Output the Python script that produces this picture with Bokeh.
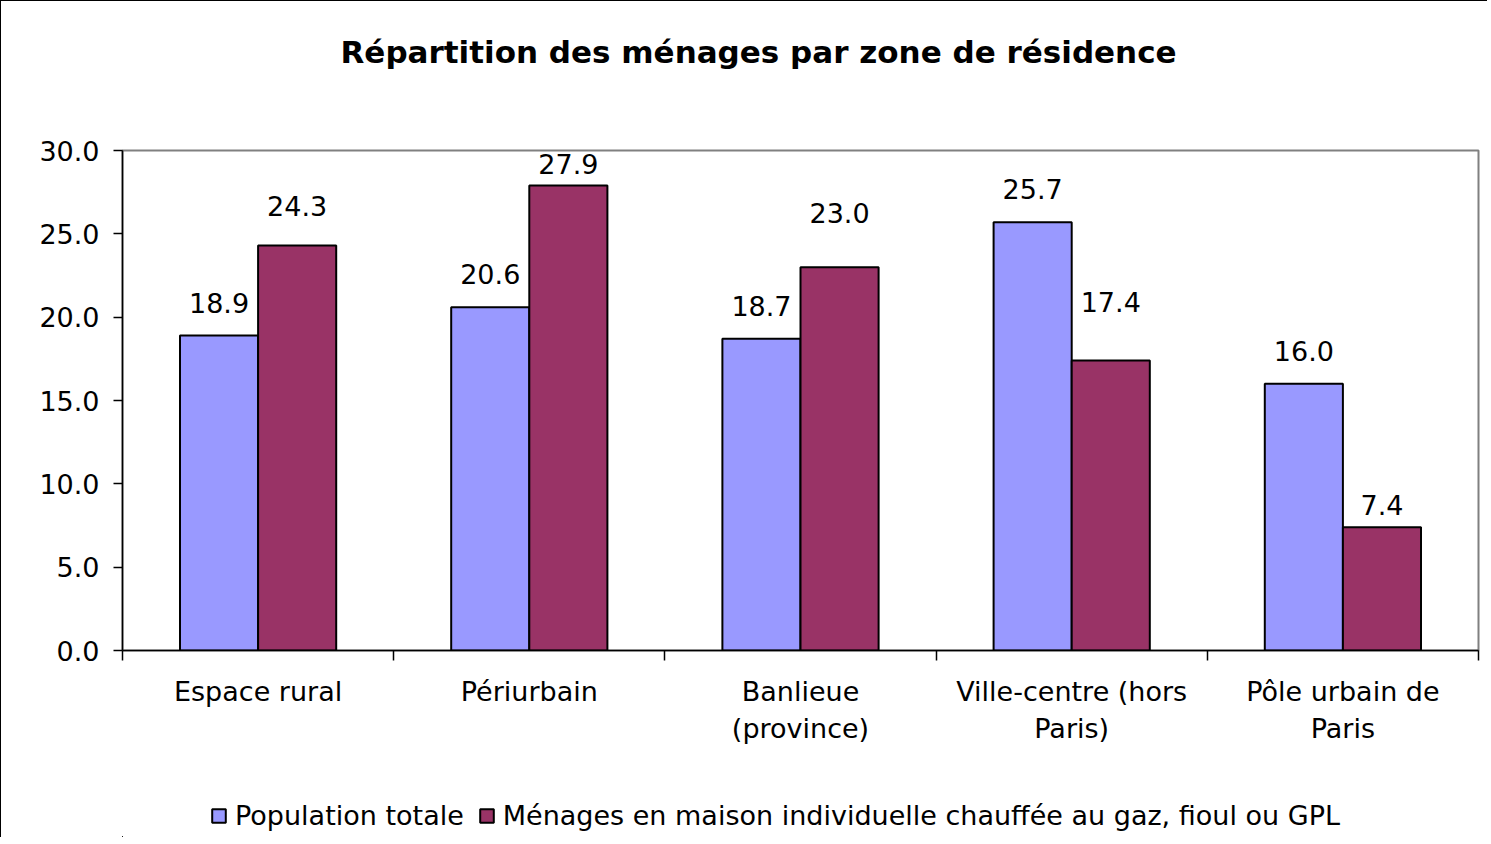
from bokeh.plotting import figure
from bokeh.layouts import column
from bokeh.models import (ColumnDataSource, FixedTicker, LinearAxis, Legend, LegendItem,
                          Range1d, NumeralTickFormatter, Title)
from bokeh.core.properties import value
from bokeh.embed import file_html
from bokeh.resources import INLINE

categories = ["Espace rural", "Périurbain", "Banlieue\n(province)", "Ville-centre (hors\nParis)", "Pôle urbain de\nParis"]
population_totale = [18.9, 20.6, 18.7, 25.7, 16.0]
menages_maison = [24.3, 27.9, 23.0, 17.4, 7.4]
series_names = ["Population totale", "Ménages en maison individuelle chauffée au gaz, fioul ou GPL"]
y_ticks = [0, 5, 10, 15, 20, 25, 30]

# label placement (pixels above the bar top), as in the original chart
blue_label_offsets = [-33, -33, -33, -33, -33]
red_label_offsets = [-40, -22, -54, -59, -22]

FONT = "DejaVu Sans"
BLUE = "#9999FF"
RED = "#993366"
BAR_W = 0.288

idx = list(range(len(categories)))
centers = [i + 0.5 for i in idx]
src1 = ColumnDataSource(dict(x=[c - BAR_W / 2 for c in centers], top=population_totale,
                             lab=[f"{v:.1f}" for v in population_totale], off=blue_label_offsets))
src2 = ColumnDataSource(dict(x=[c + BAR_W / 2 for c in centers], top=menages_maison,
                             lab=[f"{v:.1f}" for v in menages_maison], off=red_label_offsets))

p = figure(frame_width=1355, frame_height=499, output_backend="svg", toolbar_location=None,
           x_range=Range1d(0, len(categories)), y_range=Range1d(0, 30),
           x_axis_type=None, y_axis_type=None,
           min_border_left=121, min_border_right=10, min_border_top=149, min_border_bottom=120)
p.styles = {"border-left": "1px solid black", "border-top": "1px solid black"}
p.title = None

# spacer (closest to the frame) then the real title
p.add_layout(Title(text=" ", text_font=FONT, text_font_size="10px", standoff=38), "above")
p.add_layout(Title(text="Répartition des ménages par zone de résidence", align="left",
                   offset=218,
                   text_font=FONT, text_font_size="31px", text_font_style="bold",
                   text_color="black", standoff=60), "above")

r1 = p.vbar(x="x", top="top", width=BAR_W, source=src1, fill_color=BLUE,
            line_color="black", line_width=2)
r2 = p.vbar(x="x", top="top", width=BAR_W, source=src2, fill_color=RED,
            line_color="black", line_width=2)

for s in (src1, src2):
    p.text(x="x", y="top", text="lab", source=s, text_align="center", text_baseline="middle",
           y_offset="off", text_font=value(FONT), text_font_size="27px", text_color="black")

# y axis
yax = LinearAxis(ticker=FixedTicker(ticks=y_ticks), formatter=NumeralTickFormatter(format="0.0"))
yax.major_label_text_font = FONT
yax.major_label_text_font_size = "27px"
yax.major_label_text_color = "black"
yax.major_tick_in = 0
yax.major_tick_out = 9
yax.minor_tick_out = 0
yax.minor_tick_in = 0
yax.axis_line_color = "black"
yax.axis_line_width = 1.5
yax.major_tick_line_width = 1.5
yax.major_label_standoff = 14
p.add_layout(yax, "left")

# x axis: labels at centers, ticks at category boundaries (minor ticks)
xax = LinearAxis(ticker=FixedTicker(ticks=centers, minor_ticks=[0, 1, 2, 3, 4, 5]))
xax.major_label_overrides = {c: categories[i] for i, c in enumerate(centers)}
xax.major_label_text_font = FONT
xax.major_label_text_font_size = "27px"
xax.major_label_text_color = "black"
xax.major_tick_in = 0
xax.major_tick_out = 0
xax.minor_tick_in = 0
xax.minor_tick_out = 10
xax.minor_tick_line_color = "black"
xax.minor_tick_line_width = 1.5
xax.axis_line_color = "black"
xax.axis_line_width = 1.5
xax.major_label_standoff = 15
p.add_layout(xax, "below")

p.ygrid.ticker = FixedTicker(ticks=y_ticks)
p.ygrid.grid_line_color = "#808080"
p.ygrid.grid_line_width = 1.2
p.xgrid.visible = False
p.outline_line_color = "#808080"
p.outline_line_width = 2
p.background_fill_color = "white"
p.border_fill_color = "white"

# legend strip (same series, drawn far out of view so only the legend shows)
lf = figure(width=1486, height=68, output_backend="svg", toolbar_location=None,
            x_range=Range1d(1000, 1005), y_range=Range1d(1000, 1001),
            x_axis_type=None, y_axis_type=None, min_border=0)
lf.styles = {"border-left": "1px solid black"}
lf.outline_line_color = None
lf.grid.visible = False
lf.background_fill_color = "white"
lf.border_fill_color = "white"
d1 = lf.vbar(x="x", top="top", width=BAR_W, source=src1, fill_color=BLUE,
             line_color="black", line_width=2)
d2 = lf.vbar(x="x", top="top", width=BAR_W, source=src2, fill_color=RED,
             line_color="black", line_width=2)
legend = Legend(items=[LegendItem(label=series_names[0], renderers=[d1]),
                       LegendItem(label=series_names[1], renderers=[d2])],
                orientation="horizontal", location=(88, 6),
                label_text_font=FONT, label_text_font_size="27px", label_text_color="black",
                glyph_width=17, glyph_height=17, label_standoff=8, spacing=14,
                border_line_color=None, background_fill_alpha=0, padding=4, margin=0)
lf.add_layout(legend, "center")

layout = column(p, lf, spacing=0)
open("out.html", "w").write(file_html(layout, INLINE))
